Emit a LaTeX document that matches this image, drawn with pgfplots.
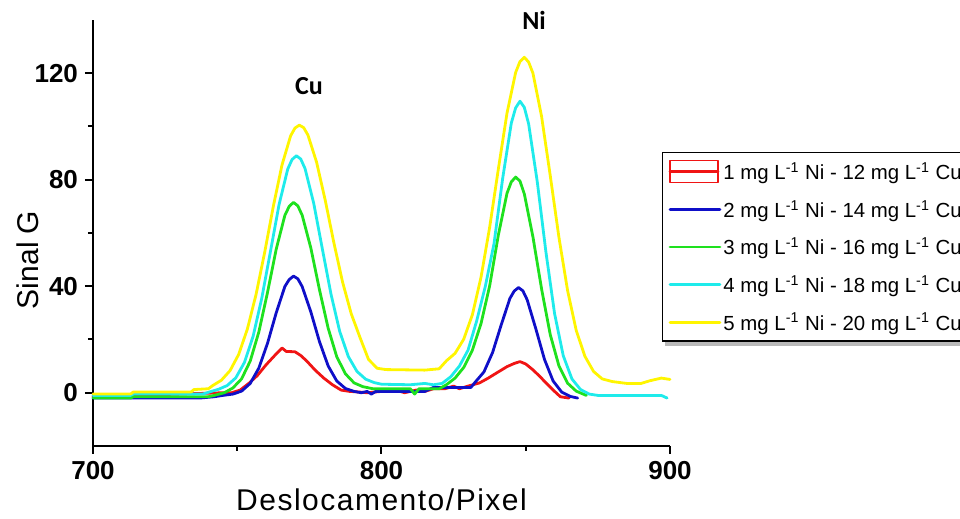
\documentclass[border=0pt]{standalone}
\usepackage{fontspec}
\setmainfont{Liberation Sans}
\newfontfamily\calib{Carlito}
\usepackage{pgfplots}
\pgfplotsset{compat=1.18}
\usetikzlibrary{backgrounds}

\definecolor{cred}{RGB}{240,20,20}
\definecolor{cblue}{RGB}{15,15,200}
\definecolor{cgreen}{RGB}{30,225,30}
\definecolor{ccyan}{RGB}{30,235,235}
\definecolor{cyell}{RGB}{255,245,0}

\begin{document}
\begin{tikzpicture}
\path[use as bounding box] (0,0) rectangle (480pt,259.5pt);
\begin{axis}[
  at={(46.5pt,36.5pt)}, anchor=south west,
  width=288.5pt, height=213pt, scale only axis,
  xmin=700, xmax=900, ymin=-20, ymax=140,
  axis x line=bottom, axis y line=left,
  axis line style={-, line width=1pt},
  xtick={700,800,900}, minor xtick={750,850},
  ytick={0,40,80,120}, minor ytick={20,60,100},
  tick align=outside, major tick length=4pt, minor tick length=2.5pt,
  every tick/.style={black, line width=1pt},
  /pgf/number format/assume math mode=true,
  /pgf/number format/1000 sep={},
  tick label style={font=\fontsize{13}{15}\selectfont\bfseries},
  xlabel={Deslocamento/Pixel},
  ylabel={Sinal G},
  label style={font=\fontsize{15}{17}\selectfont},
  xlabel style={at={(axis description cs:0.5,-0.127)}, anchor=center, font=\fontsize{15}{17}\selectfont\addfontfeatures{LetterSpace=5}},
  ylabel style={at={(axis description cs:-0.113,0.437)}, anchor=center},
  every axis plot/.append style={line join=round, line cap=round},
  legend cell align=left,
  legend image code/.code={\draw[#1] (0pt,0pt) -- (25pt,0pt);},
  legend style={name=leg, at={(0.986,0.69)}, anchor=north west, draw=black, fill=white, line width=0.7pt,
    font=\fontsize{10.2}{12}\selectfont, row sep=5.8pt, inner xsep=3pt, inner ysep=3pt,
    nodes={inner sep=1pt, text height=9.5pt, text depth=1.5pt}},
  clip=false,
]
\addplot[cred, line width=1.4pt,
  legend image code/.code={\draw[cred, line width=0.6pt] (0pt,-5.5pt) rectangle (24pt,5.5pt); \draw[cred, line width=1.4pt] (0pt,0pt) -- (24pt,0pt);}]
coordinates {(700,-1.5) (745,0) (748,0) (751,1) (754,3.5) (757,6.5) (760,10.5) (763,14) (765.5,16.8) (767,15.5) (770,15.4) (772,14) (774,12) (777,8.5) (780,5.5) (783,3) (786,1) (789,0.5) (792,0.3) (795,0) (800,0.5) (805,1) (808,0) (812,1) (815,0.5) (818,1.5) (822,1.5) (825,2.5) (827,1.5) (830,2.5) (834,3.7) (837,5.5) (840,7.5) (843.5,9.8) (846,11) (848,11.7) (850,10.8) (852.5,8.6) (855,6) (857,3.7) (860,0.5) (862,-1.5) (865,-2)};
\addlegendentry{1 mg L\textsuperscript{-1} Ni - 12 mg L\textsuperscript{-1} Cu}

\addplot[cblue, line width=1.4pt]
coordinates {(700,-2) (737,-2) (742,-1.5) (745,-1) (748.5,-0.5) (751.5,0.6) (754.5,3.5) (757.5,9.3) (760.5,18.6) (763.5,30) (766.5,39.9) (768,42.5) (769.5,43.8) (771,42.8) (772.5,39.9) (775.5,30.4) (778.5,19.2) (781.5,10.1) (784.5,4.4) (787.5,1.6) (790.5,0.5) (793,0) (795,0.5) (796.5,-0.5) (798,0.5) (805,0.5) (815,0.5) (818,2) (831,2) (832.5,4) (835.5,7.8) (838.5,15.1) (841.5,25.5) (844.5,35.4) (846,38.2) (847.5,39.5) (849,38.3) (850.5,34.9) (853.5,24) (856.5,12.5) (859.5,4.4) (862.5,0.2) (865.5,-1.4) (868,-2)};
\addlegendentry{2 mg L\textsuperscript{-1} Ni - 14 mg L\textsuperscript{-1} Cu}

\addplot[cgreen, line width=1.4pt]
coordinates {(700,-2) (713,-2) (714,-1.5) (740,-1.5) (742,-1) (745.5,0) (748.5,1.8) (751.5,5.2) (754.5,11.9) (757.5,22.9) (760.5,37.7) (763.5,53.9) (766.5,66.6) (768,70) (769.5,71.5) (771,70.2) (772.5,66.7) (775.5,54.4) (778.5,38.7) (781.5,24.3) (784.5,13.5) (787.5,7.1) (790.5,3.7) (793.5,2.3) (797,1.5) (810,1.5) (811.5,-0.5) (813,1.5) (820,1.5) (822.5,3) (825.5,5.5) (828.5,9.5) (831.5,16) (834.5,26) (837.5,40.2) (840.5,59.2) (843.5,74.9) (845,79.2) (846.5,81) (848,79.5) (849.5,74.7) (852.5,58.5) (855.5,38.9) (858.5,21.8) (861.5,10.1) (864.5,3.6) (867.5,0.6) (871,-1)};
\addlegendentry{3 mg L\textsuperscript{-1} Ni - 16 mg L\textsuperscript{-1} Cu}

\addplot[ccyan, line width=1.4pt]
coordinates {(700,-1) (713,-1) (714,-0.5) (738,-0.5) (741,0.5) (743.5,1.3) (746.5,2.7) (749.5,5.6) (752.5,11.4) (755.5,21.2) (758.5,35.5) (761.5,53) (764.5,70.7) (767.5,84) (769,87.6) (770.5,89) (772,87.8) (773.5,84.2) (776.5,71.2) (779.5,54) (782.5,37) (785.5,23.1) (788.5,13.6) (791.5,8) (794.5,5.1) (797.5,3.8) (800,3.2) (810,3) (815,3.5) (818,3) (821,3.5) (824,6) (827,10) (830,16) (833,27) (836,40) (839,56) (842,80.5) (845,101.3) (846.5,107) (848,109.5) (849.5,107.2) (851,101) (854,79.2) (857,52.8) (860,29.7) (863,13.9) (866,5.2) (869,1.2) (872,-0.5) (875,-1) (897,-1) (899,-2)};
\addlegendentry{4 mg L\textsuperscript{-1} Ni - 18 mg L\textsuperscript{-1} Cu}

\addplot[cyell, line width=1.4pt]
coordinates {(700,-0.5) (713,-0.5) (714,0.3) (734,0.3) (735,1.2) (740,1.5) (741.5,2.7) (744.5,4.7) (747.5,8.3) (750.5,14.4) (753.5,23.9) (756.5,36.8) (759.5,52.7) (762.5,70) (765.5,85.5) (768.5,96.5) (770,99.4) (771.5,100.5) (773,99.6) (774.5,96.8) (777.5,86.6) (780.5,72.3) (783.5,56.3) (786.5,41.6) (789.5,29.7) (792.5,20.9) (795.5,12.5) (798.5,9.2) (801.5,8.7) (815,8.5) (820,9) (822.5,12) (825.5,14.8) (828.5,20.1) (831.5,29.3) (834.5,43.4) (837.5,62.2) (840.5,84) (843.5,105) (846.5,120.3) (848,124.4) (849.5,126) (851,124.2) (852.5,120) (855.5,103.7) (858.5,81.5) (861.5,58.4) (864.5,38.4) (867.5,23.4) (870.5,13.7) (873.5,8) (876.5,5.2) (880,4.2) (885,3.5) (890,3.5) (893,4.5) (897,5.5) (900,5)};
\addlegendentry{5 mg L\textsuperscript{-1} Ni - 20 mg L\textsuperscript{-1} Cu}

\node[font=\calib\fontsize{13}{15}\selectfont\bfseries] at (axis cs:774.9,115.2) {Cu};
\node[font=\calib\fontsize{13}{15}\selectfont\bfseries] at (axis cs:852.9,140) {Ni};
\end{axis}
\begin{pgfonlayer}{background}
\fill[gray!55] ([shift={(1.5pt,-2pt)}]leg.south west) rectangle ([shift={(1.5pt,-2pt)}]leg.north east);
\end{pgfonlayer}
\end{tikzpicture}
\end{document}
